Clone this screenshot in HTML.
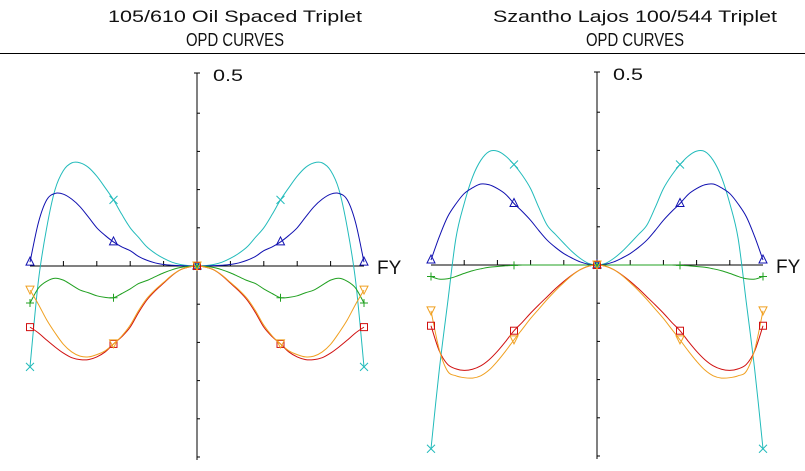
<!DOCTYPE html>
<html><head><meta charset="utf-8"><style>
html,body{margin:0;padding:0;background:#fff;}
svg{display:block;}
text{font-family:"Liberation Sans",sans-serif;fill:#111;}
</style></head><body>
<svg id="chart" width="805" height="471" viewBox="0 0 805 471" xmlns="http://www.w3.org/2000/svg">
<g>
<text x="235" y="22" font-size="17" text-anchor="middle" textLength="254" lengthAdjust="spacingAndGlyphs">105/610 Oil Spaced Triplet</text>
<text x="235" y="46" font-size="18" text-anchor="middle" textLength="98" lengthAdjust="spacingAndGlyphs">OPD CURVES</text>
</g>
<g>
<text x="635" y="22" font-size="17" text-anchor="middle" textLength="284" lengthAdjust="spacingAndGlyphs">Szantho Lajos 100/544 Triplet</text>
<text x="635" y="46" font-size="18" text-anchor="middle" textLength="98" lengthAdjust="spacingAndGlyphs">OPD CURVES</text>
</g>
<line x1="0" y1="53.5" x2="805" y2="53.5" stroke="#000" stroke-width="1"/>
<g id="plots"></g>
</svg>
<script>
// FY sample grid 0..1 step 0.05 (curves are symmetric in FY)
const fySamples = [0,0.05,0.1,0.15,0.2,0.25,0.3,0.35,0.4,0.45,0.5,0.55,0.6,0.65,0.7,0.75,0.8,0.85,0.9,0.95,1.0];
const yTickValues = [-0.5,-0.4,-0.3,-0.2,-0.1,0.1,0.2,0.3,0.4];
const xTickValues = [-0.8,-0.6,-0.4,-0.2,0.2,0.4,0.6,0.8];
const markerFY = [-1,-0.5,0,0.5,1];
// Left plot: 105/610 Oil Spaced Triplet
const leftCyan   = [0,0.001,0.004,0.01,0.02,0.033,0.05,0.075,0.1,0.135,0.173,0.205,0.235,0.258,0.27,0.27,0.25,0.2,0.1,-0.04,-0.264];
const leftBlue   = [0,0,0.001,0.002,0.004,0.008,0.015,0.025,0.04,0.05,0.063,0.08,0.1,0.128,0.155,0.175,0.188,0.19,0.173,0.113,0.01];
const leftGreen  = [0,-0.001,-0.004,-0.01,-0.018,-0.028,-0.038,-0.046,-0.06,-0.072,-0.083,-0.082,-0.078,-0.07,-0.063,-0.05,-0.037,-0.032,-0.04,-0.058,-0.097];
const leftRed    = [0,-0.003,-0.01,-0.025,-0.045,-0.065,-0.089,-0.122,-0.16,-0.185,-0.204,-0.225,-0.238,-0.245,-0.245,-0.24,-0.228,-0.212,-0.194,-0.175,-0.16];
const leftOrange = [0,-0.003,-0.01,-0.024,-0.043,-0.062,-0.085,-0.117,-0.155,-0.183,-0.204,-0.222,-0.232,-0.238,-0.236,-0.225,-0.205,-0.175,-0.141,-0.1,-0.063];
// Right plot: Szantho Lajos 100/544 Triplet
const rightCyan   = [0,0.004,0.017,0.035,0.057,0.08,0.104,0.15,0.2,0.235,0.263,0.285,0.298,0.297,0.274,0.23,0.161,0.07,-0.1,-0.274,-0.481];
const rightBlue   = [0,0.002,0.008,0.018,0.03,0.046,0.065,0.09,0.117,0.14,0.161,0.185,0.2,0.21,0.212,0.202,0.187,0.16,0.126,0.074,0.013];
const rightGreen  = [0,0,0,0,0,0,0,0,0,0,-0.001,-0.002,-0.004,-0.006,-0.01,-0.015,-0.022,-0.03,-0.036,-0.037,-0.03];
const rightRed    = [0,-0.003,-0.012,-0.026,-0.043,-0.062,-0.083,-0.104,-0.126,-0.15,-0.172,-0.2,-0.226,-0.248,-0.264,-0.273,-0.276,-0.272,-0.26,-0.225,-0.159];
const rightOrange = [0,-0.003,-0.012,-0.027,-0.046,-0.067,-0.09,-0.115,-0.14,-0.168,-0.196,-0.225,-0.252,-0.275,-0.29,-0.296,-0.295,-0.29,-0.278,-0.222,-0.12];

const NS = "http://www.w3.org/2000/svg";
const root = document.getElementById('plots');
function mk(tag, attrs, parent){
  const e = document.createElementNS(NS, tag);
  for (const k in attrs) e.setAttribute(k, attrs[k]);
  parent.appendChild(e); return e;
}
function catmull(pts){
  let d = "M" + pts[0][0].toFixed(2) + "," + pts[0][1].toFixed(2);
  for (let i=0;i<pts.length-1;i++){
    const p0=pts[Math.max(0,i-1)], p1=pts[i], p2=pts[i+1], p3=pts[Math.min(pts.length-1,i+2)];
    const c1=[p1[0]+(p2[0]-p0[0])/6, p1[1]+(p2[1]-p0[1])/6];
    const c2=[p2[0]-(p3[0]-p1[0])/6, p2[1]-(p3[1]-p1[1])/6];
    d += " C"+c1[0].toFixed(2)+","+c1[1].toFixed(2)+" "+c2[0].toFixed(2)+","+c2[1].toFixed(2)+" "+p2[0].toFixed(2)+","+p2[1].toFixed(2);
  }
  return d;
}
function valueAt(arr, fy){
  const a = Math.abs(fy); const idx = Math.round(a/0.05);
  return arr[idx];
}
function drawMarker(g, type, x, y, color){
  let m;
  if (type==='tri-up') m = mk('path',{d:`M${x-4},${y+3} L${x+4},${y+3} L${x},${y-5} Z`,fill:'none',stroke:color},g);
  else if (type==='tri-down') m = mk('path',{d:`M${x-4},${y-4} L${x+4},${y-4} L${x},${y+4} Z`,fill:'none',stroke:color},g);
  else if (type==='square') m = mk('rect',{x:x-3.5,y:y-3.5,width:7,height:7,fill:'none',stroke:color},g);
  else if (type==='cross-x') m = mk('path',{d:`M${x-4},${y-4} L${x+4},${y+4} M${x-4},${y+4} L${x+4},${y-4}`,stroke:color},g);
  else m = mk('path',{d:`M${x-4},${y} L${x+4},${y} M${x},${y-4} L${x},${y+4}`,stroke:color},g);
  
  
}
function drawPlot(name, cx, cy, halfW, series){
  const g = mk('g',{},root);
  
  
  const sy = 382;
  const X = fy => cx + fy*halfW;
  const Y = v => cy - v*sy;
  const axes = mk('g',{stroke:'#000','stroke-width':1},g);
  
  
  const yAxis = mk('line',{x1:cx,y1:Y(0.5)-2,x2:cx,y2:Y(-0.5)+3},axes);
  
  
  mk('line',{x1:cx-3,y1:Y(0.5)-2,x2:cx+3,y2:Y(0.5)-2},axes);
  const xAxis = mk('line',{x1:X(-1),y1:cy,x2:X(1),y2:cy},axes);
  
  
  yTickValues.forEach(v=>{
    const t = mk('line',{x1:cx,y1:Y(v),x2:cx+3,y2:Y(v)},axes);
    
    
  });
  xTickValues.forEach(v=>{
    const t = mk('line',{x1:X(v),y1:cy,x2:X(v),y2:cy-5},axes);
    
    
  });
  const lab = mk('text',{x:cx+16,y:Y(0.5)+6,'font-size':17,textLength:30,lengthAdjust:'spacingAndGlyphs'},g);
  lab.textContent = '0.5';
  
  
  const fyl = mk('text',{x:X(1)+13,y:cy+8,'font-size':19},g);
  fyl.textContent = 'FY';
  
  
  series.forEach(s=>{
    const pts = [];
    for (let i=fySamples.length-1;i>0;i--) pts.push([X(-fySamples[i]), Y(s.vals[i])]);
    for (let i=0;i<fySamples.length;i++) pts.push([X(fySamples[i]), Y(s.vals[i])]);
    const p = mk('path',{d:catmull(pts),fill:'none',stroke:s.color,'stroke-width':1},g);
    
    
  });
  series.forEach(s=>{
    markerFY.forEach(fy=> drawMarker(g, s.marker, X(fy), Y(valueAt(s.vals, fy)), s.color));
  });
}
drawPlot('left-opd-plot', 197, 266, 167, [
  {name:'cyan-curve', vals:leftCyan, color:'#22bbbb', marker:'cross-x'},
  {name:'blue-curve', vals:leftBlue, color:'#1010b0', marker:'tri-up'},
  {name:'green-curve', vals:leftGreen, color:'#20a020', marker:'plus'},
  {name:'red-curve', vals:leftRed, color:'#d01010', marker:'square'},
  {name:'orange-curve', vals:leftOrange, color:'#f0a020', marker:'tri-down'}
]);
drawPlot('right-opd-plot', 597, 265, 166, [
  {name:'cyan-curve', vals:rightCyan, color:'#22bbbb', marker:'cross-x'},
  {name:'blue-curve', vals:rightBlue, color:'#1010b0', marker:'tri-up'},
  {name:'green-curve', vals:rightGreen, color:'#20a020', marker:'plus'},
  {name:'red-curve', vals:rightRed, color:'#d01010', marker:'square'},
  {name:'orange-curve', vals:rightOrange, color:'#f0a020', marker:'tri-down'}
]);
</script>
</body></html>
